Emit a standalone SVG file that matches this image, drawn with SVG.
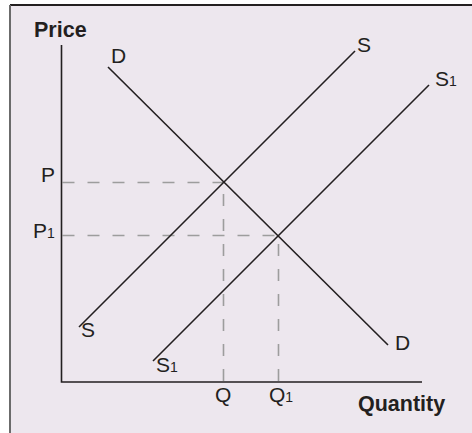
<svg xmlns="http://www.w3.org/2000/svg" width="472" height="433" viewBox="0 0 472 433">
  <style>
    .lbl { font-family: "Liberation Sans", Arial, sans-serif; font-size: 21px; fill: #231f20; }
    .ttl { font-family: "Liberation Sans", Arial, sans-serif; font-size: 21.5px; font-weight: bold; fill: #231f20; }
    .sub { font-size: 14px; }
    .curve { stroke: #231f20; stroke-width: 1.6; fill: none; }
    .axis { stroke: #231f20; stroke-width: 1.6; fill: none; }
    .guide { stroke: #9d9d9d; stroke-width: 1.6; fill: none; stroke-dasharray: 12 13; }
  </style>
  <rect width="472" height="433" fill="#ffffff"/>
  <g id="frame">
    <rect x="10" y="5" width="470" height="440" fill="#ede7ee"/>
    <line x1="10" y1="5" x2="472" y2="5" stroke="#231f20" stroke-width="1.8"/>
    <line x1="10" y1="5" x2="10" y2="433" stroke="#6b6b6b" stroke-width="2"/>
  </g>
  <g id="connectors">
    <path class="guide" d="M62.5,182.5 H223.5"/>
    <path class="guide" d="M62.5,235.5 H278.5"/>
    <path class="guide" d="M223.5,381 V182.5"/>
    <path class="guide" d="M278.5,381 V235.5"/>
  </g>
  <g id="axes">
    <path class="axis" d="M61.5,45 V382 H422"/>
  </g>
  <g id="demand-D">
    <line class="curve" x1="108" y1="67" x2="388" y2="345"/>
  </g>
  <g id="supply-S">
    <line class="curve" x1="79" y1="327" x2="355" y2="51"/>
  </g>
  <g id="supply-S1">
    <line class="curve" x1="153" y1="361" x2="429" y2="85"/>
  </g>
  <g id="labels">
    <text class="ttl" x="34" y="37">Price</text>
    <text class="ttl" x="358" y="411">Quantity</text>
    <text class="lbl" x="111" y="63">D</text>
    <text class="lbl" x="395" y="350">D</text>
    <text class="lbl" x="357" y="52">S</text>
    <text class="lbl" x="81" y="337">S</text>
    <text class="lbl" x="435" y="86">S<tspan class="sub">1</tspan></text>
    <text class="lbl" x="156" y="372">S<tspan class="sub">1</tspan></text>
    <text class="lbl" x="41" y="182">P</text>
    <text class="lbl" x="33" y="238">P<tspan class="sub">1</tspan></text>
    <text class="lbl" x="215" y="402">Q</text>
    <text class="lbl" x="269" y="402">Q<tspan class="sub">1</tspan></text>
  </g>
</svg>
